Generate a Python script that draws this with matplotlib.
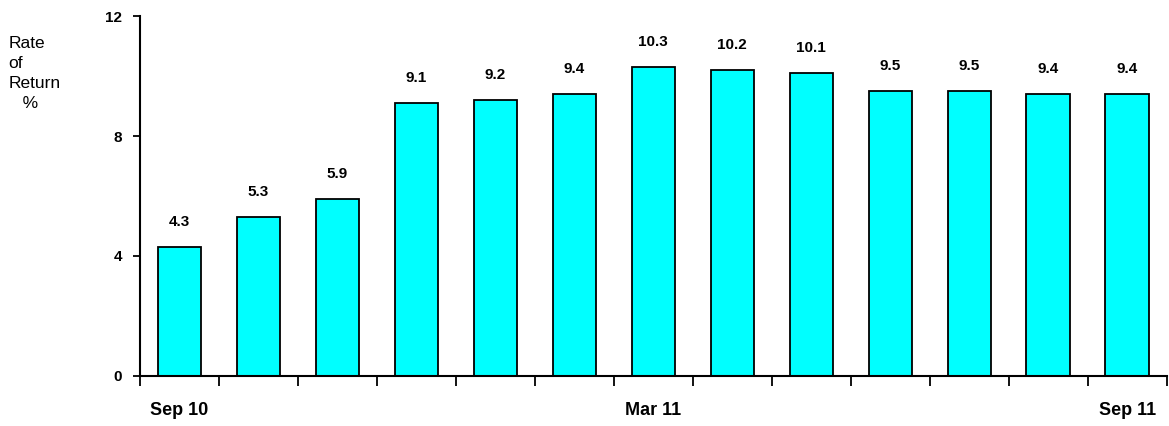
import numpy as np
import matplotlib.pyplot as plt

values = [4.3, 5.3, 5.9, 9.1, 9.2, 9.4, 10.3, 10.2, 10.1, 9.5, 9.5, 9.4, 9.4]
value_labels = ['4.3', '5.3', '5.9', '9.1', '9.2', '9.4', '10.3', '10.2', '10.1', '9.5', '9.5', '9.4', '9.4']
month_labels = ['Sep 10', '', '', '', '', '', 'Mar 11', '', '', '', '', '', 'Sep 11']
yticks = [0, 4, 8, 12]

plt.rcParams['font.family'] = ['Liberation Sans Narrow', 'Liberation Sans', 'DejaVu Sans']

fig = plt.figure(figsize=(11.69, 4.26), dpi=100)
ax = fig.add_axes([0.1198, 0.1174, 0.8782, 0.845])

x = np.arange(len(values))
ax.bar(x, values, width=0.55, color='#00FFFF', edgecolor='black', linewidth=1.3)

for xi, v, lab in zip(x, values, value_labels):
    ax.annotate(lab, (xi, v), xytext=(0, 13), textcoords='offset points',
                ha='center', va='bottom', fontsize=11, fontweight='bold')

ax.set_xlim(-0.5, len(values) - 0.5)
ax.set_ylim(0, 12)

ax.set_yticks(yticks)
ax.set_yticklabels([str(t) for t in yticks], fontsize=11, fontweight='bold')

# labels at bar centres, tick marks at boundaries
ax.set_xticks(x)
ax.set_xticklabels(month_labels, fontsize=13, fontweight='bold')
ax.tick_params(axis='x', which='major', length=0, pad=19)
ax.set_xticks(np.arange(len(values) + 1) - 0.5, minor=True)
ax.tick_params(axis='x', which='minor', length=7, width=1.3, direction='out')
ax.tick_params(axis='y', length=5, width=1.3, pad=8)

for s in ['top', 'right']:
    ax.spines[s].set_visible(False)
for s in ['left', 'bottom']:
    ax.spines[s].set_linewidth(1.5)

fig.text(0.007, 0.915, 'Rate\nof\nReturn\n   %', fontsize=12.5, va='top', ha='left',
         family=['Liberation Sans', 'DejaVu Sans'], linespacing=1.42)

fig.savefig('out.png', dpi=100)
